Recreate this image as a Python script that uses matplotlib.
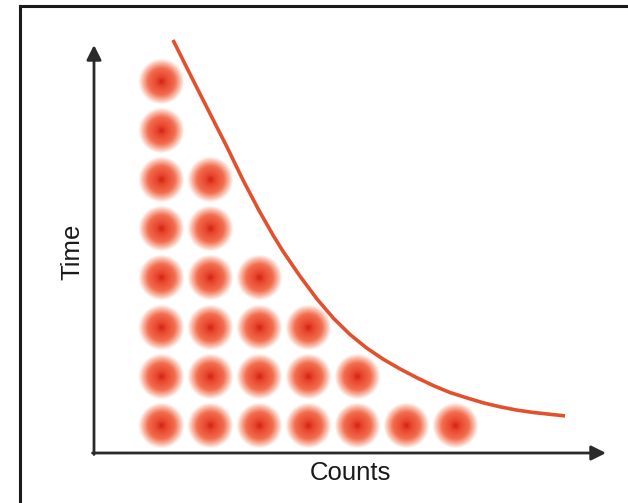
import matplotlib.pyplot as plt
import numpy as np
from matplotlib.lines import Line2D

# stacked counts per column (column 1..7)
col_heights = [8, 6, 4, 3, 2, 1, 1]

# decay curve (same units: columns / rows)
curve_x = [1.245, 1.653, 2.00, 2.347, 2.673, 3.00, 3.286, 3.49, 3.84, 4.184,
           4.52, 4.857, 5.19, 5.531, 5.878, 6.224, 6.56, 6.898, 7.245, 7.58,
           7.918, 8.25, 8.592, 9.245]
curve_y = [8.825, 8.012, 7.33, 6.650, 5.980, 5.36, 4.86, 4.53, 4.02, 3.56,
           3.17, 2.84, 2.57, 2.34, 2.14, 1.96, 1.80, 1.66, 1.55, 1.45,
           1.37, 1.305, 1.255, 1.185]

x_label = "Counts"
y_label = "Time"


def shade(t):
    # radial colour of a dot: t=0 centre, t=1 edge
    stops = [(0.0, (0.80, 0.13, 0.08)),
             (0.22, (0.91, 0.27, 0.17)),
             (0.6, (0.95, 0.43, 0.31)),
             (0.85, (0.98, 0.76, 0.70)),
             (1.0, (1.0, 0.98, 0.97))]
    for (t0, c0), (t1, c1) in zip(stops[:-1], stops[1:]):
        if t <= t1:
            f = (t - t0) / (t1 - t0)
            return tuple(a + (b - a) * f for a, b in zip(c0, c1))
    return stops[-1][1]


def main():
    fig = plt.figure(figsize=(6.28, 5.03), dpi=100)
    ax = fig.add_axes([0, 0, 1, 1])
    # pixel mapping: column 1 at px 161, 49 px per column; row 1 at py 425, 49.2 px per row
    ax.set_xlim(1 + (0 - 161) / 49, 1 + (628 - 161) / 49)
    ax.set_ylim(1 + (425 - 503) / 49.2, 1 + (425 - 0) / 49.2)
    ax.axis('off')

    xs, ys = [], []
    for i, h in enumerate(col_heights):
        for j in range(h):
            xs.append(i + 1)
            ys.append(j + 1)

    rmax = 23
    for r in np.linspace(rmax, 1, 30):
        ax.scatter(xs, ys, s=(2 * r * 0.72) ** 2, color=shade(r / rmax),
                   linewidths=0, zorder=2)

    ax.plot(curve_x, curve_y, color='#e2502c', lw=2.6, solid_capstyle='butt',
            solid_joinstyle='round', zorder=3)

    # axes arrows
    ox, oy = 1 + (94 - 161) / 49, 1 + (425 - 453) / 49.2
    ax.annotate('', xy=(1 + (606 - 161) / 49, oy), xytext=(ox - 0.03, oy),
                arrowprops=dict(arrowstyle='-|>', color='#2a2a2a', lw=2,
                                mutation_scale=22, shrinkA=0, shrinkB=0), zorder=4)
    ax.annotate('', xy=(ox, 1 + (425 - 45) / 49.2), xytext=(ox, oy - 0.03),
                arrowprops=dict(arrowstyle='-|>', color='#2a2a2a', lw=2,
                                mutation_scale=22, shrinkA=0, shrinkB=0), zorder=4)

    ax.text(1 + (350 - 161) / 49, 1 + (425 - 473) / 49.2, x_label,
            ha='center', va='center', fontsize=18.5, family='Liberation Sans', color='#1a1a1a')
    ax.text(1 + (72 - 161) / 49, 1 + (425 - 252) / 49.2, y_label, rotation=90,
            ha='center', va='center', fontsize=18.5, family='Liberation Sans', color='#1a1a1a')

    # outer frame (clipped on the right and bottom)
    x0 = 19.5 / 628
    y0 = 1 - 6 / 503
    fig.add_artist(Line2D([x0, x0], [-0.1, y0], color='#1a1a1a', lw=2.2))
    fig.add_artist(Line2D([x0, 1.1], [y0, y0], color='#1a1a1a', lw=2.2))

    fig.savefig('out.png', dpi=100)


main()
